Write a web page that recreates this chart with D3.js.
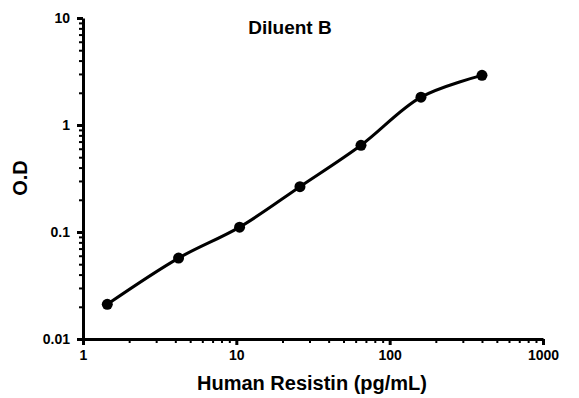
<!DOCTYPE html>
<html>
<head>
<meta charset="utf-8">
<script src="https://cdn.jsdelivr.net/npm/d3@7"></script>
<style>
  body { margin: 0; background: #fff; }
  svg { display: block; font-family: "Liberation Sans", Arial, sans-serif; }
</style>
</head>
<body>
<div id="chart"></div>
<script>
const concentration = [1.44, 4.2, 10.5, 26, 65, 160, 400];
const od = [0.0211, 0.057, 0.111, 0.265, 0.646, 1.82, 2.91];
const xTicks = [1, 10, 100, 1000];
const yTicks = [0.01, 0.1, 1, 10];

const points = concentration.map((c, i) => ({ x: c, y: od[i] }));

const width = 579;
const height = 398;

const svg = d3.select("#chart")
    .append("svg")
    .attr("width", width)
    .attr("height", height);

const x = d3.scaleLog().domain([1, 1000]).range([83, 543]);
const y = d3.scaleLog().domain([0.01, 10]).range([339, 18]);

// minor ticks 2..9 per decade
function minors(domain) {
    const out = [];
    for (let p = Math.log10(domain[0]); p < Math.log10(domain[1]); p++) {
        for (let k = 2; k <= 9; k++) out.push(k * Math.pow(10, p));
    }
    return out;
}

// x axis
svg.append("g")
    .attr("transform", "translate(0,339)")
    .call(d3.axisBottom(x).tickValues(minors(x.domain())).tickSize(4).tickFormat(""))
    .call(g => g.select(".domain").remove())
    .call(g => g.selectAll("line").attr("stroke", "#000").attr("stroke-width", 2));

svg.append("g")
    .attr("transform", "translate(0,339)")
    .call(d3.axisBottom(x).tickValues(xTicks).tickSize(6).tickSizeOuter(0).tickPadding(5)
        .tickFormat(d => String(d)))
    .call(g => g.select(".domain").attr("stroke", "#000").attr("stroke-width", 3))
    .call(g => g.selectAll("line").attr("stroke", "#000").attr("stroke-width", 3))
    .call(g => g.selectAll("text")
        .attr("fill", "#000")
        .attr("font-size", "14px")
        .attr("font-weight", "bold"));

// y axis
svg.append("g")
    .attr("transform", "translate(83,0)")
    .call(d3.axisLeft(y).tickValues(minors(y.domain())).tickSize(4).tickFormat(""))
    .call(g => g.select(".domain").remove())
    .call(g => g.selectAll("line").attr("stroke", "#000").attr("stroke-width", 2));

svg.append("g")
    .attr("transform", "translate(83,0)")
    .call(d3.axisLeft(y).tickValues(yTicks).tickSize(6).tickSizeOuter(0).tickPadding(7)
        .tickFormat(d => String(d)))
    .call(g => g.select(".domain").attr("stroke", "#000").attr("stroke-width", 3))
    .call(g => g.selectAll("line").attr("stroke", "#000").attr("stroke-width", 3))
    .call(g => g.selectAll("text")
        .attr("fill", "#000")
        .attr("font-size", "14px")
        .attr("font-weight", "bold"));

// curve
const line = d3.line()
    .x(d => x(d.x))
    .y(d => y(d.y))
    .curve(d3.curveCatmullRom.alpha(0.5));

svg.append("path")
    .datum(points)
    .attr("d", line)
    .attr("fill", "none")
    .attr("stroke", "#000")
    .attr("stroke-width", 3);

svg.selectAll("circle")
    .data(points)
    .enter()
    .append("circle")
    .attr("cx", d => x(d.x))
    .attr("cy", d => y(d.y))
    .attr("r", 5.5)
    .attr("fill", "#000");

// titles
svg.append("text")
    .attr("x", 290)
    .attr("y", 34)
    .attr("text-anchor", "middle")
    .attr("font-size", "19px")
    .attr("font-weight", "bold")
    .text("Diluent B");

svg.append("text")
    .attr("x", 312)
    .attr("y", 390)
    .attr("text-anchor", "middle")
    .attr("font-size", "20px")
    .attr("font-weight", "bold")
    .text("Human Resistin (pg/mL)");

svg.append("text")
    .attr("transform", "translate(27,178) rotate(-90)")
    .attr("text-anchor", "middle")
    .attr("font-size", "20px")
    .attr("font-weight", "bold")
    .text("O.D");
</script>
</body>
</html>
